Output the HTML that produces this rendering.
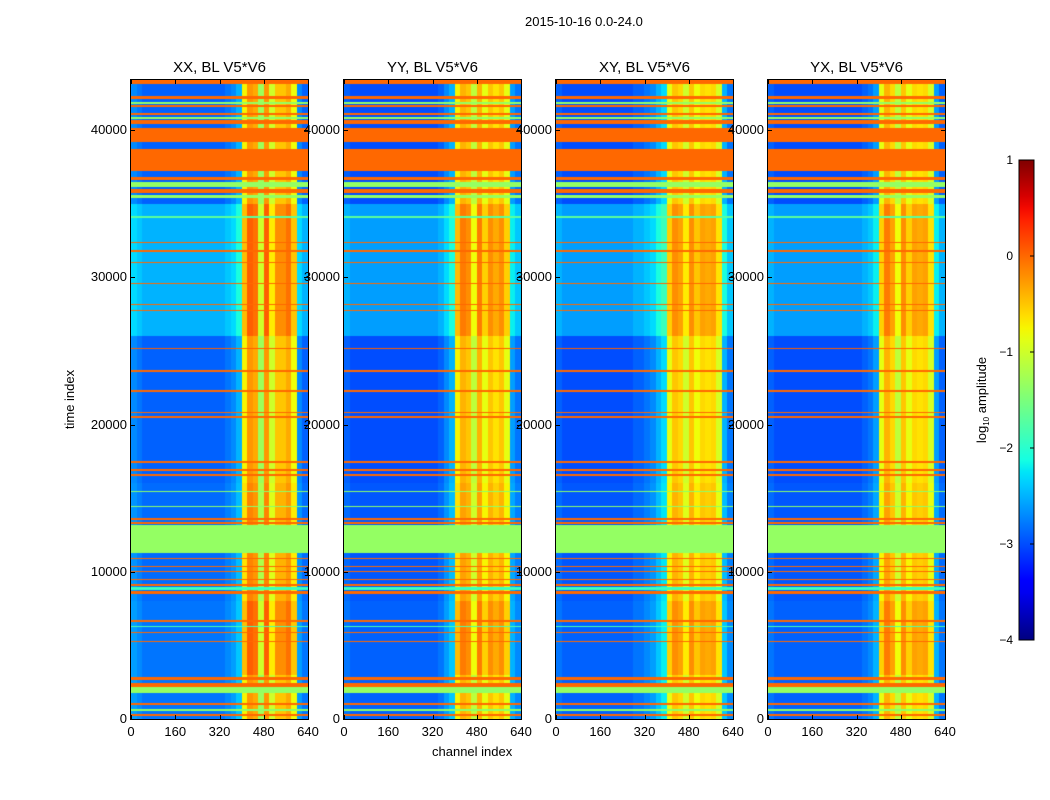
<!DOCTYPE html>
<html><head><meta charset="utf-8">
<style>
body{margin:0;background:#fff;width:1050px;height:800px;overflow:hidden;font-family:"Liberation Sans",sans-serif;}
#root{position:relative;width:1050px;height:800px;}
.t{position:absolute;font-size:13px;color:#000;white-space:nowrap;}
canvas{position:absolute;}
.frame{position:absolute;border:1px solid #000;box-sizing:border-box;pointer-events:none;}
</style></head><body>
<div id="root">
<div class="t" style="left:525px;top:14px;">2015-10-16 0.0-24.0</div>
<div class="t" style="left:432px;top:744px;">channel index</div>
<div class="t" style="left:40px;top:392px;transform:rotate(-90deg);transform-origin:center;">time index</div>
<svg id="cb" width="1050" height="800" style="position:absolute;left:0;top:0;pointer-events:none"></svg>
</div>
<script>
// ---- data ----
const panelTitles=["XX, BL V5*V6","YY, BL V5*V6","XY, BL V5*V6","YX, BL V5*V6"];
const xTicks=[0,160,320,480,640];
const yTicks=[0,10000,20000,30000,40000];
const cbTicks=[1,0,-1,-2,-3,-4];
// channel profile in 20-channel bins (log10 amplitude), per panel
const chanXX=[-2.7,-2.8,-2.9,-2.9,-2.9,-2.9,-2.9,-2.9,-2.9,-2.9,-2.9,-2.9,-2.9,-2.9,-2.9,-2.9,-2.9,-2.8,-2.7,-2.5,-0.75,-0.25,-0.35,-1.3,-0.25,-1.0,-0.5,-0.5,-0.35,-0.8,-2.7,-2.9];
const chanYY=[-2.9,-3.0,-3.0,-3.0,-3.0,-3.0,-3.0,-3.0,-3.0,-3.0,-3.0,-3.0,-3.0,-3.0,-3.0,-3.0,-3.0,-2.9,-2.7,-2.5,-0.75,-0.4,-0.5,-1.1,-0.4,-0.85,-0.5,-0.65,-0.5,-0.85,-2.6,-2.8];
const chanXY=[-2.9,-3.0,-3.0,-3.0,-3.0,-3.0,-3.0,-3.0,-3.0,-3.0,-3.0,-3.0,-3.0,-3.0,-2.9,-2.9,-2.8,-2.7,-2.5,-2.3,-0.85,-0.5,-0.6,-1.0,-0.5,-0.8,-0.6,-0.65,-0.6,-0.95,-2.5,-2.8];
const chanYX=[-2.9,-3.0,-3.0,-3.0,-3.0,-3.0,-3.0,-3.0,-3.0,-3.0,-3.0,-3.0,-3.0,-3.0,-3.0,-3.0,-3.0,-2.9,-2.8,-2.6,-0.85,-0.4,-0.6,-1.1,-0.5,-0.85,-0.6,-0.65,-0.6,-0.95,-2.6,-2.9];
// time-dependent offsets with separate offsets for faint / bright channels
const timeStart=[0,3000,8000,16000,26000,35000];
const timeEnd=[3000,8000,16000,26000,35000,43400];
const timeOffsetFaint=[0.1,0.1,0.05,0,0.4,0];
const timeOffsetBright=[0,0.3,0.1,0,0.3,0];
// flagged rows [start,end,value]
const flagStart=[43150,42090,41790,41540,40990,40780,40440,39190,37250,36590,36130,35750,35400,34050,32300,31740,30950,29530,28120,27710,25110,23590,22240,20770,20470,17420,16850,16510,15390,14420,13510,13220,11250,10860,10300,9960,9460,9060,8760,8490,6600,6230,5820,5210,2650,2190,1790,980,570,230];
const flagEnd=[43380,42290,41900,41680,41130,40890,40660,40150,38740,36810,36470,36020,35610,34150,32420,31840,31060,29640,28220,27810,25210,23700,22340,20870,20570,17520,16950,16610,15470,14500,13620,13350,13170,10950,10380,10040,9540,9140,8980,8690,6720,6310,5930,5290,2870,2420,2150,1060,650,310];
const flagValue=[0,0,-1.35,0,0,-1.35,0,0,0,0,-1.35,0,-1.35,-1.7,0,0,0,0,0,0,0.05,0,0,0,0,0,0,0,-1.4,-1.4,0,0,-1.35,0,0,0,0,0,-1.9,0,0,-1.8,0,0,0,0,-1.35,0,-1.4,0];
const chanSets=[chanXX,chanYY,chanXY,chanYX];

// ---- layout ----
const panelLeft=[131,344,556,768], PW=177, PT=80, PH=639;
const TMAX=43400, CMAX=640, VMIN=-4, VMAX=1;
const root=document.getElementById('root');
function interp(pts,x){
  for(let i=1;i<pts.length;i++){ if(x<=pts[i][0]){const a=pts[i-1],b=pts[i];return a[1]+(b[1]-a[1])*(x-a[0])/(b[0]-a[0]);} }
  return pts[pts.length-1][1];
}
const JR=[[0,0],[0.35,0],[0.66,1],[0.89,1],[1,0.5]];
const JG=[[0,0],[0.125,0],[0.375,1],[0.64,1],[0.91,0],[1,0]];
const JB=[[0,0.5],[0.11,1],[0.34,1],[0.65,0],[1,0]];
function jet(v){
  let x=(v-VMIN)/(VMAX-VMIN); x=Math.max(0,Math.min(1,x));
  return [Math.round(interp(JR,x)*255),Math.round(interp(JG,x)*255),Math.round(interp(JB,x)*255)];
}
function valueAt(chan,c,t){
  for(let i=0;i<flagStart.length;i++) if(t>=flagStart[i]&&t<flagEnd[i]) return flagValue[i];
  const bin=Math.min(chan.length-1,Math.floor(c/(CMAX/chan.length)));
  const base=chan[bin];
  let off=0;
  for(let i=0;i<timeStart.length;i++) if(t>=timeStart[i]&&t<timeEnd[i]) off=(base>-2?timeOffsetBright[i]:timeOffsetFaint[i]);
  return base+off;
}
const xScale=(c,p)=>panelLeft[p]+c/CMAX*PW;
const yScale=t=>PT+PH-t/TMAX*PH;

for(let p=0;p<4;p++){
  const cv=document.createElement('canvas');
  
  
  cv.width=PW; cv.height=PH;
  cv.style.left=panelLeft[p]+'px'; cv.style.top=PT+'px';
  const ctx=cv.getContext('2d'); const img=ctx.createImageData(PW,PH);
  for(let y=0;y<PH;y++){
    const t=(PH-y-0.5)/PH*TMAX;
    for(let x=0;x<PW;x++){
      const c=(x+0.5)/PW*CMAX;
      const col=jet(valueAt(chanSets[p],c,t));
      const k=(y*PW+x)*4; img.data[k]=col[0];img.data[k+1]=col[1];img.data[k+2]=col[2];img.data[k+3]=255;
    }
  }
  ctx.putImageData(img,0,0);
  root.appendChild(cv);
  const fr=document.createElement('div'); fr.className='frame';
  
  
  fr.style.cssText+=`left:${panelLeft[p]-1}px;top:${PT-1}px;width:${PW+2}px;height:${PH+2}px;`;
  root.appendChild(fr);
  const ti=document.createElement('div'); ti.className='t'; ti.textContent=panelTitles[p];
  
  
  ti.style.cssText+=`left:${panelLeft[p]}px;width:${PW}px;text-align:center;top:59px;font-size:15px;`;
  root.appendChild(ti);
  xTicks.forEach(v=>{
    const l=document.createElement('div'); l.className='t'; l.textContent=v;
    
    
    l.style.cssText+=`left:${xScale(v,p)-20}px;width:40px;text-align:center;top:724px;`;
    root.appendChild(l);
    ['b','t'].forEach(s=>{const k=document.createElement('div');
      
      
      k.style.cssText=`position:absolute;left:${xScale(v,p)}px;top:${s=='b'?PT+PH-4:PT}px;width:1px;height:4px;background:#000`;root.appendChild(k);});
  });
  yTicks.forEach(v=>{
    const l=document.createElement('div'); l.className='t'; l.textContent=v;
    
    
    l.style.cssText+=`left:${panelLeft[p]-64}px;width:60px;text-align:right;top:${yScale(v)-8}px;`;
    root.appendChild(l);
    ['l','r'].forEach(s=>{const k=document.createElement('div');
      
      
      k.style.cssText=`position:absolute;left:${s=='l'?panelLeft[p]:panelLeft[p]+PW-4}px;top:${yScale(v)}px;width:4px;height:1px;background:#000`;root.appendChild(k);});
  });
}
// colorbar
const svg=document.getElementById('cb'); const NS='http://www.w3.org/2000/svg';
const CBX=1019,CBW=15,CBT=160,CBH=480;
const cbY=v=>CBT+(VMAX-v)/(VMAX-VMIN)*CBH;
const defs=document.createElementNS(NS,'defs');
const grad=document.createElementNS(NS,'linearGradient'); grad.id='jg'; grad.setAttribute('x1','0');grad.setAttribute('y1','1');grad.setAttribute('x2','0');grad.setAttribute('y2','0');
for(let i=0;i<=40;i++){const s=document.createElementNS(NS,'stop');const c=jet(VMIN+i/40*(VMAX-VMIN));s.setAttribute('offset',i/40);s.setAttribute('stop-color',`rgb(${c})`);grad.appendChild(s);}
defs.appendChild(grad);svg.appendChild(defs);
const r=document.createElementNS(NS,'rect');


r.setAttribute('x',CBX);r.setAttribute('y',CBT);r.setAttribute('width',CBW);r.setAttribute('height',CBH);r.setAttribute('fill','url(#jg)');r.setAttribute('stroke','#000');svg.appendChild(r);
cbTicks.forEach(v=>{
  const tx=document.createElementNS(NS,'text');
  
  
  tx.setAttribute('x',1013);tx.setAttribute('y',cbY(v)+4);tx.setAttribute('text-anchor','end');tx.setAttribute('font-size','12');tx.setAttribute('font-family','Liberation Sans, sans-serif');
  tx.textContent=v<0?'\u2212'+(-v):String(v);svg.appendChild(tx);
  const ln=document.createElementNS(NS,'line');
  
  
  ln.setAttribute('x1',CBX+CBW-4);ln.setAttribute('x2',CBX+CBW);ln.setAttribute('y1',cbY(v));ln.setAttribute('y2',cbY(v));ln.setAttribute('stroke','#000');svg.appendChild(ln);
});
const lab=document.createElementNS(NS,'text');


lab.setAttribute('transform','translate(986,400) rotate(-90)');lab.setAttribute('text-anchor','middle');lab.setAttribute('font-size','13');lab.setAttribute('font-family','Liberation Sans, sans-serif');
lab.innerHTML='log<tspan font-size="8" dy="3">10</tspan><tspan dy="-3"> amplitude</tspan>';svg.appendChild(lab);
</script>
</body></html>
